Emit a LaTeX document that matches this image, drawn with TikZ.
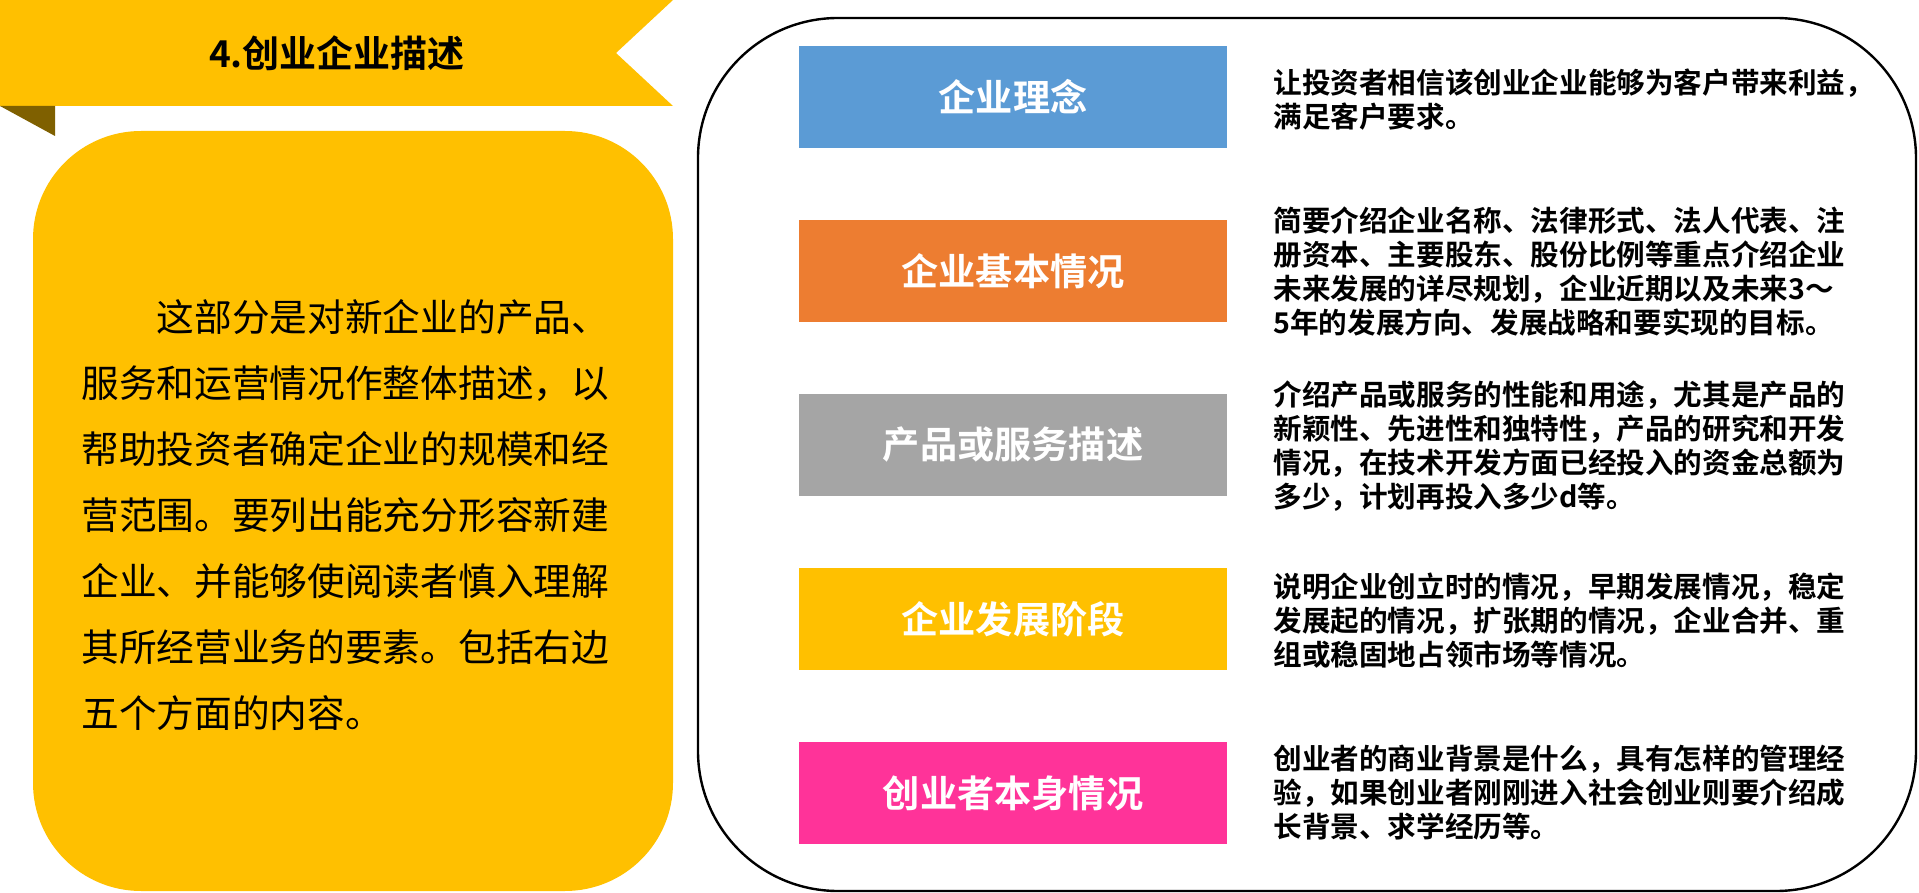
\documentclass[tikz,border=0pt]{standalone}
\usepackage{fontspec}
\setmainfont{Noto Sans CJK SC}[BoldFont={Noto Sans CJK SC Bold}]
\definecolor{gold}{HTML}{FFC000}
\definecolor{folddark}{HTML}{7F6000}
\definecolor{cblue}{HTML}{5B9BD5}
\definecolor{corange}{HTML}{ED7D31}
\definecolor{cgray}{HTML}{A5A5A5}
\definecolor{cpink}{HTML}{FF3399}
\tikzset{
  catbox/.style={fill=#1, minimum width=214pt, minimum height=51pt, inner sep=0pt,
    text=white, font=\bfseries\fontsize{18.6}{22}\selectfont},
  desc/.style={anchor=west, inner sep=0pt, align=left,
    font=\bfseries\fontsize{14.3}{17}\selectfont},
}
\begin{document}
\begin{tikzpicture}[x=0.5pt,y=-0.5pt]
\useasboundingbox (0,0) rectangle (1919,893);
% banner
\fill[gold] (0,0) -- (673,0) -- (616,53) -- (673,106) -- (0,106) -- cycle;
\fill[folddark] (0,106) -- (55,106) -- (55,136) -- cycle;
\node[font=\bfseries\fontsize{18.5}{22}\selectfont] (title) at (337,53) {4.创业企业描述};
% left panel
\fill[gold, rounded corners=54pt] (33,131) rectangle (673,891);
\node[anchor=west, inner sep=0pt, align=left, font=\fontsize{18.85}{33}\selectfont] (intro) at (81,515) {%
\hspace*{2em}这部分是对新企业的产品、\\
服务和运营情况作整体描述，以\\
帮助投资者确定企业的规模和经\\
营范围。要列出能充分形容新建\\
企业、并能够使阅读者慎入理解\\
其所经营业务的要素。包括右边\\
五个方面的内容。};
% right panel
\draw[line width=1.2pt, rounded corners=70pt] (698,18) rectangle (1916,891);
\node[catbox=cblue] (b1) at (1013,97) {企业理念};
\node[catbox=corange] (b2) at (1013,271) {企业基本情况};
\node[catbox=cgray] (b3) at (1013,445) {产品或服务描述};
\node[catbox=gold] (b4) at (1013,619) {企业发展阶段};
\node[catbox=cpink] (b5) at (1013,793) {创业者本身情况};
\node[desc] (d1) at (1273,100) {让投资者相信该创业企业能够为客户带来利益，\\满足客户要求。};
\node[desc] (d2) at (1273,272) {简要介绍企业名称、法律形式、法人代表、注\\册资本、主要股东、股份比例等重点介绍企业\\未来发展的详尽规划，企业近期以及未来3～\\5年的发展方向、发展战略和要实现的目标。};
\node[desc] (d3) at (1273,446) {介绍产品或服务的性能和用途，尤其是产品的\\新颖性、先进性和独特性，产品的研究和开发\\情况，在技术开发方面已经投入的资金总额为\\多少，计划再投入多少d等。};
\node[desc] (d4) at (1273,621) {说明企业创立时的情况，早期发展情况，稳定\\发展起的情况，扩张期的情况，企业合并、重\\组或稳固地占领市场等情况。};
\node[desc] (d5) at (1273,793) {创业者的商业背景是什么，具有怎样的管理经\\验，如果创业者刚刚进入社会创业则要介绍成\\长背景、求学经历等。};
\end{tikzpicture}
\end{document}
